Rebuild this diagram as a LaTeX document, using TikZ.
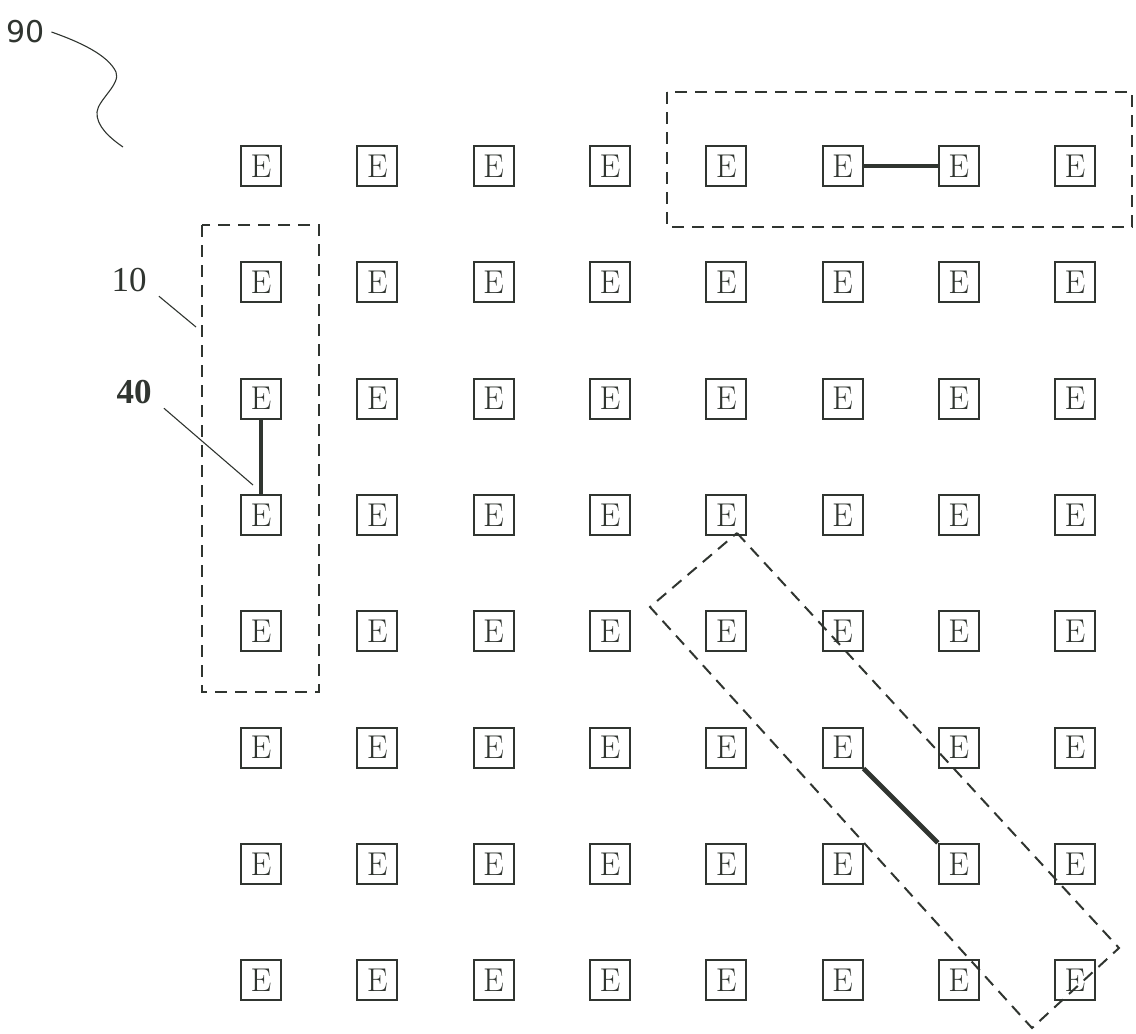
\documentclass[tikz,border=0pt]{standalone}
\usepackage{fontspec}
\newfontfamily\numfont{Liberation Serif}
\newfontfamily\tagfont{DejaVu Sans}
\definecolor{ink}{HTML}{303530}
\tikzset{
  elem/.style={draw=ink, line width=1pt, minimum width=20pt, minimum height=20pt, inner sep=0pt,
    text=ink, font=\fontsize{16.5}{16.5}\selectfont},
  grp/.style={draw=ink, line width=1pt, dash pattern=on 6pt off 4pt},
  link/.style={draw=ink, line width=2.4pt},
  lead/.style={draw=ink, line width=0.55pt},
  lbl/.style={text=ink, inner sep=0pt, font=\numfont\fontsize{17.5}{17.5}\selectfont}
}
\begin{document}
\begin{tikzpicture}[x=0.5pt,y=-0.5pt]
\useasboundingbox (0,0) rectangle (1136,1034);
\foreach \c in {1,...,8}{
  \foreach \r in {1,...,8}{
    \node[elem] (e-\c-\r) at ({261+116.3*(\c-1)},{166+116.3*(\r-1)}) {E};
  }
}
% groups
\draw[grp] (202,225) rectangle (319,692);
\draw[grp] (667,92) rectangle (1132,227);
\draw[grp] (737,533) -- (1119,948) -- (1032,1028) -- (650,607) -- cycle;
% links
\draw[link] (e-1-3) -- (e-1-4);
\draw[link] (e-6-1) -- (e-7-1);
\draw[link] (e-6-6.south east) -- (e-7-7.north west);
% labels
\node[lbl,font=\tagfont\fontsize{15}{15}\selectfont] (l90) at (26,32) {90};
\node[lbl] (l10) at (129,280) {10};
\node[lbl,font=\numfont\bfseries\fontsize{17.5}{17.5}\selectfont] (l40) at (134,392) {40};
\coordinate (t90) at (123,147);
\coordinate (t10) at (196,327);
\coordinate (t40) at (253,485);
\draw[lead] ([xshift=3pt,yshift=0pt]l90.east) .. controls (80,42) and (108,55) .. (116,72)
  .. controls (121,84) and (98,100) .. (97,112) .. controls (96,126) and (110,138) .. (t90);
\draw[lead] ([xshift=6pt,yshift=-2pt]l10.south east) -- (t10);
\draw[lead] ([xshift=6pt,yshift=-2pt]l40.south east) -- (t40);
\end{tikzpicture}
\end{document}
